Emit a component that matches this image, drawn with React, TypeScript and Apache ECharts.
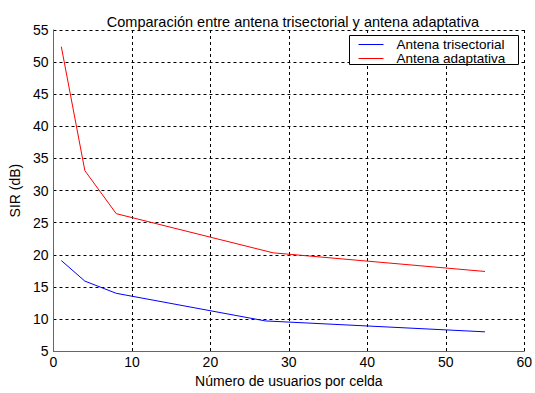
import React, { useEffect, useRef } from "react";
import * as echarts from "echarts";

const title = "Comparación entre antena trisectorial y antena adaptativa";
const xName = "Número de usuarios por celda";
const yName = "SIR (dB)";
const seriesNames = ["Antena trisectorial", "Antena adaptativa"];
const seriesColors = ["#0000ff", "#ff0000"];
const trisectorialX = [1, 4, 8, 27, 55];
const trisectorialY = [19.1, 15.9, 14.0, 9.7, 8.0];
const adaptativaX = [1, 4, 8, 28, 55];
const adaptativaY = [52.4, 33.1, 26.4, 20.3, 17.4];

export default function App() {
  const ref = useRef<HTMLDivElement>(null);
  useEffect(() => {
    document.body.style.margin = "0";
    const chart = echarts.init(ref.current!, null, { renderer: "svg" });
    const font = "Liberation Sans, Arial, sans-serif";
    chart.setOption({
      animation: false,
      backgroundColor: "#ffffff",
      color: seriesColors,
      title: {
        text: title,
        left: 288,
        textAlign: "center",
        top: 9,
        textStyle: { fontSize: 14.5, fontWeight: "normal", color: "#000", fontFamily: font },
      },
      grid: { left: 51, right: 9, top: 30, bottom: 36, containLabel: false },
      legend: {
        orient: "vertical",
        left: 358,
        top: 37.5,
        itemWidth: 25,
        itemHeight: 13.5,
        itemGap: 0,
        padding: 0,
        z: 10,
        itemStyle: { opacity: 0 },
        lineStyle: { width: 1 },
        textStyle: {
          fontSize: 13.5,
          lineHeight: 13.5,
          color: "#000",
          fontFamily: font,
          padding: [0, 0, 0, 8],
        },
        data: seriesNames,
      },
      graphic: [
        {
          type: "rect",
          z: 5,
          shape: { x: 349.5, y: 35.5, width: 169, height: 29 },
          style: { fill: "#ffffff", stroke: "#000", lineWidth: 1 },
        },
      ],
      xAxis: {
        type: "value",
        min: 0,
        max: 60,
        interval: 10,
        name: xName,
        nameLocation: "middle",
        nameGap: 19,
        nameTextStyle: { fontSize: 14, color: "#000", fontFamily: font },
        axisLine: { show: true, lineStyle: { color: "#666", width: 1 } },
        axisTick: { show: false },
        axisLabel: { fontSize: 14, color: "#000", fontFamily: font, margin: 4 },
        splitLine: { show: true, lineStyle: { color: "#000", type: [3, 3], width: 1 } },
      },
      yAxis: {
        type: "value",
        min: 5,
        max: 55,
        interval: 5,
        name: yName,
        nameLocation: "middle",
        nameGap: 27,
        nameRotate: 90,
        nameTextStyle: { fontSize: 14, color: "#000", fontFamily: font },
        axisLine: { show: true, lineStyle: { color: "#666", width: 1 } },
        axisTick: { show: false },
        axisLabel: { fontSize: 14, color: "#000", fontFamily: font, margin: 5 },
        splitLine: { show: true, lineStyle: { color: "#000", type: [3, 3], width: 1 } },
      },
      series: [
        {
          name: seriesNames[0],
          type: "line",
          symbol: "none",
          data: trisectorialX.map((x, i) => [x, trisectorialY[i]]),
          lineStyle: { color: seriesColors[0], width: 1 },
          itemStyle: { color: seriesColors[0] },
        },
        {
          name: seriesNames[1],
          type: "line",
          symbol: "none",
          data: adaptativaX.map((x, i) => [x, adaptativaY[i]]),
          lineStyle: { color: seriesColors[1], width: 1 },
          itemStyle: { color: seriesColors[1] },
        },
      ],
    });
    return () => chart.dispose();
  }, []);
  return <div ref={ref} style={{ width: 535, height: 393 }} />;
}
